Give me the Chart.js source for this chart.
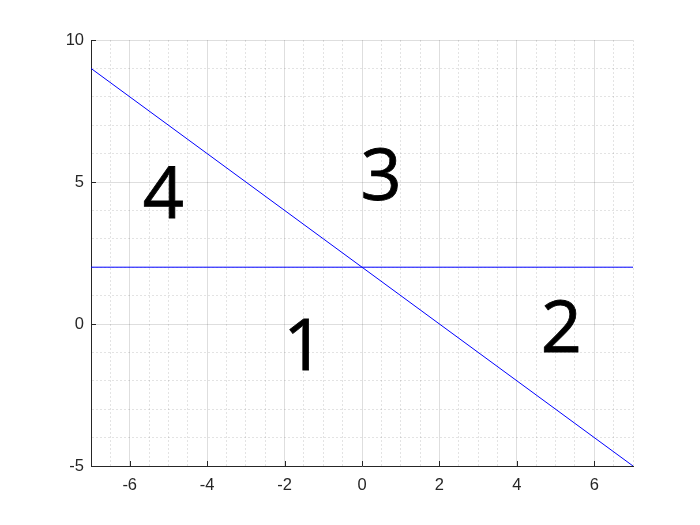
<!DOCTYPE html>
<html lang="en">
<head>
    <meta charset="UTF-8">
    <title>Regions</title>
    <script src="https://cdn.jsdelivr.net/npm/chart.js"></script>
    <style>
        body {
            margin: 0;
            background-color: white;
        }
    </style>
</head>
<body>
    <canvas id="regionChart" width="700" height="525"></canvas>

    <script>
        // line data
        const lineX = [-7, 7];
        const diagonalY = [9, -5];
        const horizontalY = [2, 2];

        // tick labels
        const xTickLabels = [-6, -4, -2, 0, 2, 4, 6];
        const yTickLabels = [-5, 0, 5, 10];

        // region numbers (centre of each digit)
        const regionText = ['4', '3', '1', '2'];
        const regionX = [-5.13, 0.49, -1.50, 5.15];
        const regionY = [4.63, 5.28, -0.70, -0.09];

        const gridMajor = 'rgba(0,0,0,0.13)';
        const gridMinor = 'rgba(0,0,0,0.11)';
        const axisColor = '#262626';

        function toPoints(xs, ys) {
            return xs.map((x, i) => ({ x: x, y: ys[i] }));
        }

        // region numbers and inward tick marks
        const extras = {
            id: 'extras',
            afterDatasetsDraw(chart) {
                const ctx = chart.ctx;
                const xs = chart.scales.x;
                const ys = chart.scales.y;
                const area = chart.chartArea;
                ctx.save();
                ctx.strokeStyle = axisColor;
                ctx.lineWidth = 1;
                ctx.beginPath();
                xTickLabels.forEach(v => {
                    const px = Math.round(xs.getPixelForValue(v)) + 0.5;
                    ctx.moveTo(px, area.bottom);
                    ctx.lineTo(px, area.bottom - 5);
                });
                yTickLabels.forEach(v => {
                    const py = Math.round(ys.getPixelForValue(v)) + 0.5;
                    ctx.moveTo(area.left, py);
                    ctx.lineTo(area.left + 5, py);
                });
                ctx.stroke();

                const size = 72;
                ctx.font = size + 'px "Open Sans"';
                ctx.fillStyle = 'black';
                ctx.strokeStyle = 'black';
                ctx.lineWidth = 0.8;
                ctx.textAlign = 'center';
                ctx.textBaseline = 'alphabetic';
                regionText.forEach((t, i) => {
                    const px = xs.getPixelForValue(regionX[i]);
                    const py = ys.getPixelForValue(regionY[i]);
                    ctx.fillText(t, px, py + size * 0.714 / 2);
                    ctx.strokeText(t, px, py + size * 0.714 / 2);
                });
                ctx.restore();
            }
        };

        function isMajor(list, v) {
            return list.some(m => Math.abs(m - v) < 1e-9);
        }

        const ctx = document.getElementById('regionChart').getContext('2d');
        new Chart(ctx, {
            type: 'scatter',
            data: {
                datasets: [{
                    data: toPoints(lineX, diagonalY),
                    showLine: true,
                    borderColor: 'rgb(0,0,255)',
                    borderWidth: 1,
                    pointRadius: 0
                }, {
                    data: toPoints(lineX, horizontalY),
                    showLine: true,
                    borderColor: 'rgb(0,0,255)',
                    borderWidth: 1,
                    pointRadius: 0
                }]
            },
            options: {
                responsive: false,
                animation: false,
                layout: {
                    padding: { top: 40, right: 67, bottom: 0, left: 0 }
                },
                plugins: {
                    legend: { display: false },
                    tooltip: { enabled: false }
                },
                scales: {
                    x: {
                        type: 'linear',
                        min: -7,
                        max: 7,
                        afterFit: s => { s.height = 59; },
                        border: {
                            color: axisColor,
                            width: 1,
                            dash: c => (c.tick && !isMajor(xTickLabels, c.tick.value)) ? [2, 2] : []
                        },
                        grid: {
                            drawTicks: false,
                            color: c => (c.tick && isMajor(xTickLabels, c.tick.value)) ? gridMajor : gridMinor
                        },
                        ticks: {
                            stepSize: 0.5,
                            autoSkip: false,
                            maxRotation: 0,
                            maxTicksLimit: 100,
                            padding: 10,
                            color: axisColor,
                            font: { family: '"Liberation Sans", Arial', size: 16.5 },
                            callback: v => isMajor(xTickLabels, v) ? String(v) : ''
                        }
                    },
                    y: {
                        type: 'linear',
                        min: -5,
                        max: 10,
                        afterFit: s => { s.width = 91; },
                        border: {
                            color: axisColor,
                            width: 1,
                            dash: c => (c.tick && !isMajor(yTickLabels, c.tick.value)) ? [2, 2] : []
                        },
                        grid: {
                            drawTicks: false,
                            color: c => (c.tick && isMajor(yTickLabels, c.tick.value)) ? gridMajor : gridMinor
                        },
                        ticks: {
                            stepSize: 1,
                            autoSkip: false,
                            maxTicksLimit: 100,
                            padding: 7,
                            color: axisColor,
                            font: { family: '"Liberation Sans", Arial', size: 16.5 },
                            callback: v => isMajor(yTickLabels, v) ? String(v) : ''
                        }
                    }
                }
            },
            plugins: [extras]
        });
    </script>
</body>
</html>
